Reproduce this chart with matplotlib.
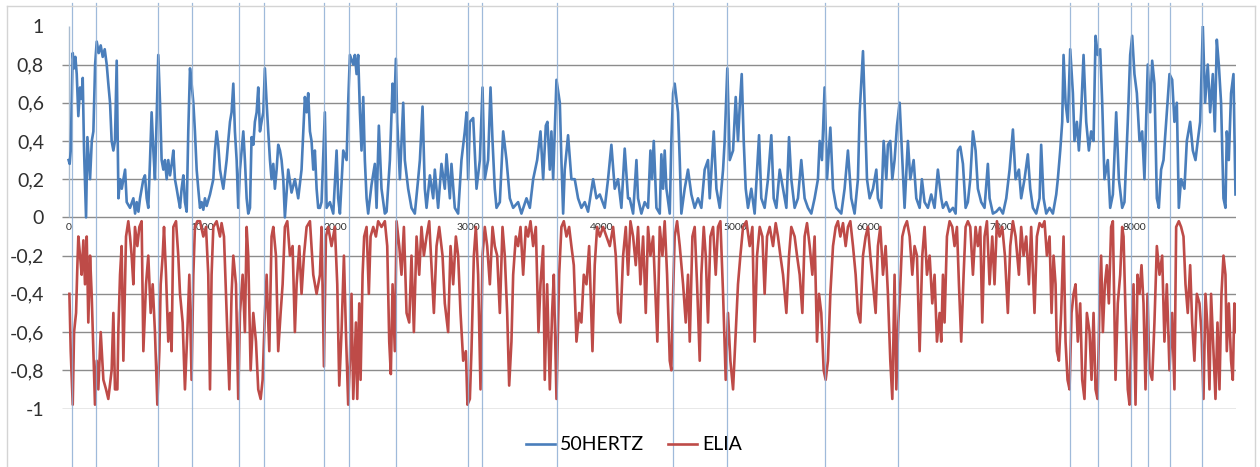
import matplotlib
matplotlib.use("Agg")
import matplotlib.pyplot as plt
from matplotlib.lines import Line2D

plt.rcParams['font.family'] = ['Lato', 'DejaVu Sans']

# hour of year, normalised value
hertz = [
    (0, 0.3), (8, 0.28), (16, 0.35), (31, 0.86), (41, 0.78), (51, 0.84), (61, 0.75), (73, 0.53),
    (86, 0.68), (98, 0.62), (106, 0.73), (116, 0.35), (131, 0.0), (141, 0.42), (161, 0.2), (174, 0.4),
    (186, 0.45), (199, 0.8), (211, 0.92), (226, 0.86), (241, 0.9), (256, 0.84), (271, 0.88), (286, 0.8),
    (298, 0.7), (311, 0.6), (323, 0.4), (336, 0.35), (348, 0.4), (361, 0.82), (374, 0.1), (386, 0.2),
    (399, 0.15), (424, 0.25), (436, 0.08), (461, 0.05), (486, 0.1), (499, 0.02), (511, 0.08), (524, 0.03),
    (536, 0.1), (561, 0.2), (573, 0.22), (586, 0.1), (598, 0.05), (611, 0.3), (623, 0.55), (636, 0.35),
    (648, 0.2), (660, 0.5), (673, 0.85), (686, 0.6), (698, 0.3), (711, 0.25), (723, 0.3), (736, 0.2),
    (748, 0.3), (761, 0.22), (774, 0.28), (786, 0.35), (798, 0.2), (811, 0.15), (823, 0.1), (836, 0.05),
    (848, 0.15), (861, 0.22), (873, 0.08), (886, 0.03), (898, 0.45), (911, 0.78), (923, 0.7), (936, 0.6),
    (948, 0.45), (961, 0.25), (973, 0.15), (986, 0.05), (998, 0.08), (1011, 0.04), (1023, 0.1), (1036, 0.06),
    (1061, 0.12), (1086, 0.2), (1098, 0.35), (1111, 0.45), (1123, 0.38), (1136, 0.25), (1148, 0.2), (1161, 0.15),
    (1173, 0.22), (1186, 0.3), (1198, 0.4), (1211, 0.5), (1223, 0.55), (1236, 0.7), (1248, 0.45), (1261, 0.3),
    (1273, 0.05), (1286, 0.25), (1311, 0.45), (1323, 0.3), (1336, 0.1), (1348, 0.02), (1361, 0.05), (1373, 0.42),
    (1386, 0.38), (1398, 0.5), (1411, 0.55), (1423, 0.68), (1436, 0.45), (1448, 0.5), (1461, 0.55), (1473, 0.78),
    (1486, 0.6), (1498, 0.45), (1511, 0.3), (1523, 0.2), (1536, 0.28), (1548, 0.15), (1561, 0.25), (1573, 0.38),
    (1586, 0.35), (1598, 0.3), (1611, 0.2), (1623, 0.0), (1648, 0.25), (1673, 0.13), (1698, 0.2), (1723, 0.1),
    (1748, 0.25), (1773, 0.63), (1786, 0.55), (1798, 0.65), (1811, 0.45), (1823, 0.4), (1836, 0.25), (1848, 0.35),
    (1861, 0.15), (1873, 0.05), (1886, 0.05), (1898, 0.08), (1923, 0.55), (1936, 0.05), (1961, 0.08), (1986, 0.02),
    (2011, 0.35), (2023, 0.1), (2036, 0.02), (2061, 0.35), (2086, 0.3), (2098, 0.6), (2111, 0.85), (2136, 0.8),
    (2148, 0.85), (2161, 0.75), (2173, 0.85), (2186, 0.55), (2198, 0.35), (2211, 0.63), (2223, 0.3), (2236, 0.1),
    (2248, 0.02), (2273, 0.17), (2298, 0.28), (2311, 0.05), (2328, 0.48), (2348, 0.15), (2373, 0.02), (2386, 0.03),
    (2411, 0.3), (2431, 0.7), (2443, 0.55), (2456, 0.83), (2466, 0.5), (2486, 0.2), (2511, 0.6), (2523, 0.3),
    (2548, 0.15), (2573, 0.05), (2598, 0.02), (2623, 0.2), (2636, 0.3), (2656, 0.58), (2673, 0.15), (2686, 0.05),
    (2711, 0.22), (2736, 0.1), (2748, 0.25), (2773, 0.05), (2798, 0.28), (2823, 0.15), (2836, 0.33), (2861, 0.1),
    (2873, 0.28), (2898, 0.05), (2923, 0.02), (2948, 0.3), (2973, 0.45), (2986, 0.55), (2998, 0.2), (3011, 0.5),
    (3036, 0.52), (3061, 0.15), (3086, 0.3), (3106, 0.68), (3123, 0.2), (3148, 0.3), (3166, 0.68), (3181, 0.4),
    (3198, 0.15), (3211, 0.05), (3236, 0.08), (3261, 0.45), (3286, 0.3), (3311, 0.1), (3336, 0.05), (3373, 0.08),
    (3398, 0.02), (3436, 0.1), (3461, 0.05), (3486, 0.2), (3516, 0.3), (3541, 0.45), (3561, 0.2), (3581, 0.48),
    (3593, 0.5), (3611, 0.25), (3623, 0.45), (3636, 0.2), (3661, 0.72), (3686, 0.6), (3698, 0.3), (3711, 0.02),
    (3723, 0.25), (3748, 0.43), (3773, 0.2), (3798, 0.2), (3823, 0.1), (3848, 0.05), (3873, 0.08), (3898, 0.03),
    (3936, 0.2), (3961, 0.1), (3986, 0.12), (4023, 0.05), (4048, 0.2), (4073, 0.38), (4098, 0.15), (4123, 0.2),
    (4148, 0.05), (4173, 0.36), (4198, 0.1), (4210, 0.1), (4236, 0.02), (4261, 0.3), (4273, 0.1), (4298, 0.02),
    (4323, 0.08), (4348, 0.05), (4366, 0.35), (4378, 0.2), (4391, 0.4), (4411, 0.05), (4436, 0.02), (4448, 0.33),
    (4461, 0.15), (4473, 0.35), (4486, 0.15), (4511, 0.02), (4523, 0.4), (4536, 0.65), (4548, 0.7), (4573, 0.55),
    (4586, 0.3), (4598, 0.02), (4623, 0.15), (4648, 0.25), (4673, 0.12), (4698, 0.05), (4723, 0.1), (4748, 0.05),
    (4773, 0.25), (4798, 0.3), (4811, 0.1), (4841, 0.45), (4861, 0.15), (4886, 0.05), (4911, 0.25), (4923, 0.4),
    (4943, 0.78), (4961, 0.3), (4986, 0.35), (5006, 0.63), (5023, 0.4), (5036, 0.58), (5051, 0.75), (5066, 0.4),
    (5081, 0.15), (5098, 0.05), (5123, 0.15), (5148, 0.02), (5181, 0.43), (5198, 0.1), (5223, 0.05), (5248, 0.2),
    (5273, 0.43), (5291, 0.1), (5311, 0.05), (5336, 0.25), (5361, 0.15), (5386, 0.05), (5406, 0.42), (5423, 0.2),
    (5448, 0.05), (5473, 0.1), (5498, 0.3), (5523, 0.1), (5548, 0.05), (5573, 0.02), (5598, 0.1), (5623, 0.2),
    (5636, 0.4), (5653, 0.3), (5673, 0.68), (5691, 0.2), (5716, 0.47), (5736, 0.15), (5761, 0.05), (5798, 0.02),
    (5823, 0.15), (5848, 0.35), (5873, 0.1), (5898, 0.02), (5923, 0.2), (5936, 0.55), (5948, 0.7), (5961, 0.87),
    (5973, 0.6), (5991, 0.2), (6011, 0.1), (6036, 0.15), (6061, 0.25), (6073, 0.1), (6098, 0.05), (6116, 0.4),
    (6136, 0.2), (6148, 0.38), (6166, 0.4), (6181, 0.2), (6198, 0.3), (6216, 0.48), (6236, 0.6), (6256, 0.3),
    (6273, 0.05), (6298, 0.4), (6316, 0.2), (6341, 0.3), (6361, 0.1), (6386, 0.05), (6403, 0.2), (6423, 0.08),
    (6448, 0.05), (6473, 0.12), (6498, 0.05), (6523, 0.25), (6548, 0.1), (6561, 0.05), (6586, 0.08), (6611, 0.03),
    (6636, 0.05), (6656, 0.02), (6673, 0.35), (6691, 0.37), (6711, 0.28), (6731, 0.05), (6748, 0.08), (6766, 0.2),
    (6786, 0.45), (6806, 0.35), (6823, 0.15), (6848, 0.08), (6873, 0.05), (6898, 0.28), (6911, 0.1), (6936, 0.02),
    (6961, 0.03), (6986, 0.05), (7011, 0.02), (7036, 0.1), (7061, 0.25), (7086, 0.46), (7106, 0.2), (7131, 0.25),
    (7148, 0.1), (7173, 0.2), (7198, 0.33), (7216, 0.15), (7236, 0.05), (7261, 0.02), (7286, 0.1), (7298, 0.38),
    (7316, 0.1), (7336, 0.02), (7361, 0.05), (7386, 0.02), (7411, 0.12), (7423, 0.2), (7441, 0.35), (7456, 0.5),
    (7466, 0.85), (7481, 0.6), (7498, 0.5), (7516, 0.88), (7536, 0.65), (7548, 0.4), (7566, 0.5), (7581, 0.35),
    (7598, 0.55), (7616, 0.85), (7636, 0.5), (7656, 0.35), (7673, 0.45), (7691, 0.4), (7706, 0.95), (7723, 0.85),
    (7741, 0.88), (7756, 0.6), (7773, 0.2), (7798, 0.3), (7816, 0.05), (7836, 0.12), (7861, 0.55), (7881, 0.2),
    (7906, 0.05), (7923, 0.08), (7948, 0.5), (7966, 0.85), (7981, 0.95), (7998, 0.75), (8016, 0.65), (8036, 0.4),
    (8056, 0.45), (8073, 0.2), (8098, 0.8), (8116, 0.55), (8131, 0.82), (8148, 0.7), (8166, 0.1), (8181, 0.05),
    (8198, 0.25), (8216, 0.3), (8236, 0.5), (8261, 0.75), (8281, 0.72), (8298, 0.5), (8316, 0.6), (8331, 0.05),
    (8348, 0.2), (8373, 0.15), (8391, 0.4), (8416, 0.5), (8436, 0.35), (8456, 0.3), (8473, 0.4), (8491, 0.5),
    (8511, 1.0), (8528, 0.6), (8548, 0.8), (8566, 0.55), (8586, 0.75), (8601, 0.45), (8616, 0.93), (8631, 0.8),
    (8648, 0.6), (8666, 0.1), (8681, 0.05), (8691, 0.45), (8706, 0.3), (8723, 0.65), (8741, 0.75), (8756, 0.12),
]

elia = [
    (6, -0.4), (16, -0.7), (31, -0.98), (41, -0.6), (56, -0.5), (66, -0.25), (73, -0.1), (86, -0.2),
    (98, -0.3), (111, -0.12), (123, -0.35), (136, -0.1), (148, -0.55), (161, -0.2), (173, -0.4), (186, -0.7),
    (198, -0.98), (211, -0.75), (223, -0.9), (241, -0.6), (261, -0.85), (281, -0.9), (298, -0.95), (323, -0.8),
    (336, -0.5), (348, -0.9), (366, -0.9), (373, -0.6), (386, -0.3), (398, -0.15), (411, -0.75), (431, -0.1),
    (448, -0.02), (461, -0.1), (473, -0.2), (486, -0.35), (498, -0.05), (516, -0.15), (531, -0.05), (548, -0.02),
    (561, -0.7), (581, -0.35), (598, -0.2), (616, -0.5), (631, -0.35), (648, -0.6), (666, -0.98), (681, -0.7),
    (691, -0.35), (706, -0.2), (716, -0.05), (731, -0.3), (748, -0.65), (761, -0.5), (773, -0.7), (786, -0.05),
    (806, -0.02), (823, -0.2), (836, -0.4), (856, -0.55), (873, -0.9), (891, -0.6), (906, -0.3), (923, -0.85),
    (936, -0.3), (948, -0.05), (966, -0.02), (986, -0.02), (1011, -0.1), (1031, -0.05), (1048, -0.3), (1061, -0.9),
    (1073, -0.3), (1086, -0.05), (1111, -0.02), (1136, -0.1), (1148, -0.03), (1166, -0.1), (1186, -0.5), (1206, -0.9),
    (1223, -0.4), (1236, -0.2), (1256, -0.35), (1273, -0.95), (1286, -0.5), (1306, -0.3), (1323, -0.6), (1336, -0.05),
    (1348, -0.2), (1366, -0.8), (1386, -0.5), (1406, -0.65), (1423, -0.9), (1441, -0.95), (1456, -0.85), (1473, -0.5),
    (1486, -0.3), (1506, -0.7), (1523, -0.1), (1536, -0.05), (1556, -0.2), (1573, -0.7), (1591, -0.5), (1606, -0.35),
    (1623, -0.05), (1641, -0.02), (1661, -0.2), (1681, -0.15), (1698, -0.6), (1711, -0.35), (1731, -0.15), (1748, -0.4),
    (1766, -0.2), (1786, -0.05), (1811, -0.02), (1836, -0.3), (1861, -0.4), (1886, -0.3), (1898, -0.05), (1916, -0.78),
    (1931, -0.1), (1948, -0.05), (1973, -0.15), (1998, -0.05), (2016, -0.35), (2031, -0.88), (2048, -0.6), (2066, -0.2),
    (2081, -0.6), (2098, -0.98), (2111, -0.75), (2123, -0.4), (2136, -0.95), (2156, -0.55), (2166, -0.95), (2181, -0.45),
    (2191, -0.85), (2206, -0.3), (2218, -0.1), (2236, -0.05), (2253, -0.4), (2266, -0.1), (2286, -0.05), (2306, -0.1),
    (2323, -0.02), (2348, -0.05), (2373, -0.02), (2391, -0.15), (2406, -0.65), (2418, -0.82), (2431, -0.35), (2448, -0.7),
    (2461, -0.02), (2481, -0.15), (2498, -0.3), (2516, -0.05), (2536, -0.5), (2556, -0.55), (2573, -0.2), (2591, -0.6),
    (2611, -0.1), (2631, -0.3), (2648, -0.05), (2666, -0.2), (2686, -0.1), (2706, -0.02), (2723, -0.25), (2741, -0.5),
    (2761, -0.15), (2781, -0.05), (2806, -0.2), (2823, -0.45), (2848, -0.6), (2866, -0.15), (2886, -0.35), (2906, -0.1),
    (2923, -0.2), (2941, -0.5), (2961, -0.75), (2981, -0.7), (2993, -0.98), (3011, -0.95), (3023, -0.7), (3041, -0.2),
    (3056, -0.05), (3073, -0.3), (3091, -0.9), (3106, -0.2), (3123, -0.05), (3141, -0.15), (3161, -0.35), (3181, -0.05),
    (3198, -0.15), (3216, -0.2), (3236, -0.5), (3256, -0.05), (3273, -0.2), (3291, -0.5), (3306, -0.88), (3323, -0.65),
    (3336, -0.3), (3356, -0.1), (3373, -0.15), (3391, -0.05), (3411, -0.3), (3431, -0.05), (3448, -0.1), (3466, -0.02),
    (3486, -0.15), (3506, -0.05), (3526, -0.6), (3541, -0.35), (3561, -0.15), (3573, -0.85), (3591, -0.35), (3611, -0.9),
    (3628, -0.5), (3641, -0.3), (3661, -0.95), (3681, -0.3), (3698, -0.05), (3716, -0.02), (3736, -0.1), (3756, -0.05),
    (3773, -0.15), (3791, -0.25), (3811, -0.65), (3831, -0.5), (3848, -0.55), (3866, -0.3), (3886, -0.35), (3906, -0.15),
    (3931, -0.7), (3948, -0.25), (3966, -0.05), (3986, -0.1), (4011, -0.05), (4036, -0.1), (4061, -0.15), (4086, -0.05),
    (4106, -0.2), (4123, -0.5), (4141, -0.55), (4161, -0.2), (4181, -0.05), (4198, -0.3), (4216, -0.02), (4236, -0.1),
    (4256, -0.25), (4273, -0.05), (4291, -0.35), (4311, -0.1), (4331, -0.5), (4348, -0.05), (4366, -0.2), (4386, -0.1),
    (4406, -0.45), (4418, -0.65), (4436, -0.05), (4456, -0.2), (4473, -0.02), (4491, -0.3), (4511, -0.75), (4523, -0.8),
    (4536, -0.4), (4548, -0.1), (4566, -0.02), (4586, -0.15), (4611, -0.35), (4631, -0.55), (4648, -0.3), (4661, -0.65),
    (4681, -0.1), (4698, -0.05), (4716, -0.35), (4736, -0.75), (4748, -0.3), (4766, -0.05), (4781, -0.2), (4798, -0.55),
    (4816, -0.1), (4836, -0.05), (4856, -0.3), (4873, -0.05), (4891, -0.02), (4911, -0.4), (4931, -0.85), (4948, -0.5),
    (4966, -0.75), (4986, -0.9), (5006, -0.6), (5023, -0.35), (5041, -0.2), (5061, -0.05), (5086, -0.02), (5111, -0.15),
    (5131, -0.05), (5148, -0.65), (5166, -0.2), (5186, -0.05), (5206, -0.1), (5223, -0.4), (5241, -0.1), (5261, -0.05),
    (5286, -0.15), (5306, -0.03), (5323, -0.1), (5341, -0.2), (5361, -0.3), (5386, -0.5), (5406, -0.2), (5423, -0.05),
    (5448, -0.1), (5466, -0.2), (5486, -0.3), (5506, -0.5), (5523, -0.1), (5541, -0.03), (5561, -0.15), (5581, -0.3),
    (5598, -0.1), (5616, -0.65), (5631, -0.4), (5648, -0.5), (5666, -0.8), (5681, -0.85), (5698, -0.75), (5716, -0.4),
    (5736, -0.15), (5756, -0.05), (5773, -0.02), (5791, -0.1), (5811, -0.03), (5831, -0.15), (5848, -0.05), (5866, -0.02),
    (5886, -0.15), (5906, -0.3), (5923, -0.5), (5941, -0.55), (5961, -0.2), (5981, -0.1), (5998, -0.05), (6016, -0.2),
    (6036, -0.35), (6056, -0.5), (6073, -0.15), (6091, -0.05), (6111, -0.3), (6131, -0.15), (6148, -0.4), (6166, -0.75),
    (6181, -0.95), (6198, -0.3), (6211, -0.9), (6226, -0.55), (6241, -0.35), (6256, -0.1), (6273, -0.05), (6291, -0.02),
    (6311, -0.1), (6331, -0.3), (6348, -0.15), (6366, -0.2), (6386, -0.7), (6406, -0.2), (6423, -0.05), (6441, -0.3),
    (6461, -0.2), (6481, -0.45), (6498, -0.3), (6516, -0.65), (6536, -0.5), (6548, -0.65), (6561, -0.3), (6573, -0.55),
    (6591, -0.1), (6611, -0.02), (6631, -0.05), (6648, -0.15), (6666, -0.05), (6681, -0.35), (6698, -0.65), (6716, -0.3),
    (6731, -0.05), (6748, -0.02), (6766, -0.05), (6786, -0.3), (6806, -0.05), (6823, -0.15), (6841, -0.05), (6856, -0.55),
    (6873, -0.1), (6891, -0.02), (6911, -0.35), (6931, -0.1), (6948, -0.35), (6966, -0.02), (6986, -0.1), (7006, -0.05),
    (7026, -0.2), (7048, -0.5), (7066, -0.15), (7086, -0.02), (7106, -0.1), (7131, -0.3), (7148, -0.05), (7166, -0.2),
    (7186, -0.1), (7206, -0.35), (7223, -0.05), (7248, -0.5), (7266, -0.1), (7286, -0.03), (7306, -0.05), (7323, -0.02),
    (7341, -0.2), (7361, -0.1), (7376, -0.5), (7391, -0.2), (7406, -0.35), (7416, -0.7), (7431, -0.75), (7448, -0.5),
    (7466, -0.1), (7481, -0.65), (7496, -0.85), (7511, -0.9), (7526, -0.5), (7541, -0.4), (7556, -0.35), (7573, -0.65),
    (7591, -0.45), (7606, -0.85), (7623, -0.95), (7641, -0.5), (7661, -0.6), (7676, -0.85), (7691, -0.5), (7706, -0.9),
    (7721, -0.95), (7736, -0.45), (7748, -0.2), (7761, -0.6), (7776, -0.35), (7791, -0.25), (7806, -0.45), (7823, -0.05),
    (7836, -0.02), (7856, -0.85), (7873, -0.45), (7891, -0.3), (7906, -0.05), (7916, -0.1), (7931, -0.5), (7948, -0.9),
    (7961, -0.98), (7976, -0.6), (7991, -0.35), (8006, -0.98), (8021, -0.3), (8036, -0.4), (8051, -0.25), (8066, -0.45),
    (8081, -0.9), (8096, -0.4), (8111, -0.8), (8131, -0.85), (8148, -0.55), (8166, -0.15), (8186, -0.3), (8206, -0.2),
    (8223, -0.65), (8241, -0.35), (8261, -0.8), (8281, -0.5), (8298, -0.9), (8311, -0.05), (8331, -0.02), (8348, -0.05),
    (8366, -0.1), (8381, -0.35), (8398, -0.5), (8416, -0.25), (8431, -0.55), (8448, -0.75), (8466, -0.4), (8486, -0.45),
    (8501, -0.6), (8516, -0.95), (8531, -0.4), (8548, -0.6), (8561, -0.9), (8573, -0.4), (8591, -0.7), (8606, -0.95),
    (8621, -0.55), (8636, -0.9), (8651, -0.4), (8666, -0.2), (8681, -0.3), (8691, -0.7), (8706, -0.45), (8723, -0.75),
    (8736, -0.85), (8748, -0.45), (8756, -0.6),
]

# hours marked with the thin vertical lines
marked_hours = [24, 204, 669, 923, 1280, 1469, 1917, 2105, 2454, 2999, 3102, 3664,
                4532, 4937, 5675, 6224, 7514, 7723, 7973, 8099, 8267, 8507]

y_ticks = [-1, -0.8, -0.6, -0.4, -0.2, 0, 0.2, 0.4, 0.6, 0.8, 1]
y_labels = ["-1", "-0,8", "-0,6", "-0,4", "-0,2", "0", "0,2", "0,4", "0,6", "0,8", "1"]
x_ticks = [0, 1000, 2000, 3000, 4000, 5000, 6000, 7000, 8000]

blue = "#4a7ebb"
red = "#be4b48"

fig = plt.figure(figsize=(12.6, 4.67), dpi=100)
ax = fig.add_axes([62 / 1260, 1 - 408.5 / 467, (1236 - 62) / 1260, (408.5 - 26.3) / 467])

# grid (no line at the top value)
ax.hlines(y_ticks[:-1], -49.5, 8760, color="#8c8c8c", lw=1.0, zorder=1)
ax.vlines(0, 0, 1, color="#a9bcd0", lw=1.0, zorder=1)

hx, hy = zip(*hertz)
ex, ey = zip(*elia)
ax.plot(hx, hy, color=blue, lw=1.9, label="50HERTZ", zorder=2)
ax.plot(ex, ey, color=red, lw=1.9, label="ELIA", zorder=2)

for h in marked_hours:
    ax.axvline(h, ymin=-0.155, ymax=1.06, color="#8eaed4", lw=0.9,
               alpha=0.85, clip_on=False, zorder=3)

ax.set_xlim(-49.5, 8760)
ax.set_ylim(-1, 1)
ax.set_yticks(y_ticks)
ax.set_yticklabels(y_labels)
ax.set_xticks(x_ticks)
ax.set_xticklabels([str(t) for t in x_ticks])
ax.spines['bottom'].set_position(('data', 0))
for s in ax.spines.values():
    s.set_visible(False)
ax.tick_params(axis='y', length=0, pad=13, labelsize=14, labelcolor="#303030")
ax.tick_params(axis='x', length=0, pad=4, labelsize=7.5, labelcolor="#303030")
ax.patch.set_alpha(0)

# outer chart border
for xs, ys in [([7, 7], [0, 461]), ([7, 1255], [461, 461]), ([1255, 1255], [0, 461])]:
    fig.add_artist(Line2D([x / 1260 for x in xs], [y / 467 for y in ys],
                          color="#d4d4d4", lw=1.0))

fig.legend(loc="center", bbox_to_anchor=(634 / 1260, 1 - 445 / 467), ncol=2,
           frameon=False, fontsize=14, handlelength=1.5, handletextpad=0.25,
           columnspacing=1.2, borderaxespad=0)

fig.savefig("out.png", dpi=100)
